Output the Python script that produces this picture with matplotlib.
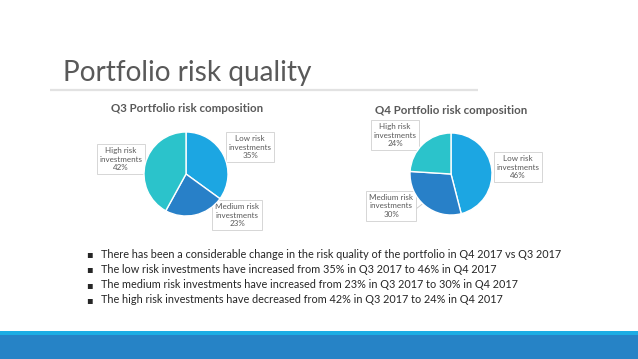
import matplotlib
matplotlib.use("Agg")
import matplotlib.pyplot as plt
from matplotlib.patches import Rectangle

# data
categories = ["Low risk\ninvestments", "Medium risk\ninvestments", "High risk\ninvestments"]
q3_values = [35, 23, 42]
q4_values = [46, 30, 24]
pie_colors = ["#1CA6E2", "#2880C8", "#2BC3CB"]
title = "Portfolio risk quality"
pie_titles = ["Q3 Portfolio risk composition", "Q4 Portfolio risk composition"]
bullets = [
    "There has been a considerable change in the risk quality of the portfolio in Q4 2017 vs Q3 2017",
    "The low risk investments have increased from 35% in Q3 2017 to 46% in Q4 2017",
    "The medium risk investments have increased from 23% in Q3 2017 to 30% in Q4 2017",
    "The high risk investments have decreased from 42% in Q3 2017 to 24% in Q4 2017",
]

W, H = 638, 359
plt.rcParams['font.family'] = ['Lato', 'DejaVu Sans']
fig = plt.figure(figsize=(W / 100, H / 100), dpi=100)
fig.patch.set_facecolor("white")

# overlay axes in pixel coords (y down)
bg = fig.add_axes([0, 0, 1, 1])
bg.set_xlim(0, W)
bg.set_ylim(H, 0)
bg.axis("off")

# slide title + rule
bg.text(63, 81, title, fontsize=20.2, fontweight="normal", color="#595959", va="baseline")
bg.plot([50, 478], [90, 90], color="#E2E2E2", lw=1.6, solid_capstyle="butt")

# bottom band
bg.add_patch(Rectangle((0, 331), W, 4, color="#1CADE4", lw=0))
bg.add_patch(Rectangle((0, 335), W, H - 335, color="#2683C6", lw=0))


def draw_pie(cx, cy, r, values):
    ax = fig.add_axes([(cx - r) / W, (H - cy - r) / H, 2 * r / W, 2 * r / H])
    ax.pie(values, colors=pie_colors, startangle=90, counterclock=False,
           wedgeprops=dict(edgecolor="white", linewidth=1.0))
    ax.set_xlim(-1, 1)
    ax.set_ylim(-1, 1)
    ax.set_aspect("auto")
    return ax


draw_pie(186, 174, 42, q3_values)
draw_pie(451, 174, 41, q4_values)

bg.text(187, 108, pie_titles[0], fontsize=8.3, fontweight="bold", color="#595959", ha="center", va="center")
bg.text(451, 111, pie_titles[1], fontsize=8.3, fontweight="bold", color="#595959", ha="center", va="center")

box = dict(boxstyle="square,pad=0.35", fc="white", ec="#D0D0D0", lw=0.6)


def label(x, y, cat, val):
    bg.text(x, y, f"{cat}\n{val}%", fontsize=5.8, color="#595959", ha="center", va="center",
            linespacing=1.25, bbox=box)


# Q3 labels
label(250, 147, categories[0], q3_values[0])
label(237, 215, categories[1], q3_values[1])
label(121, 159, categories[2], q3_values[2])

# Q4 leader lines
bg.plot([416, 426], [143, 152], color="#C8C8C8", lw=0.6)
bg.plot([412, 425], [212, 202], color="#C8C8C8", lw=0.6)
# Q4 labels
label(518, 167, categories[0], q4_values[0])
label(391, 206, categories[1], q4_values[1])
label(395, 135, categories[2], q4_values[2])

# bullets
for i, t in enumerate(bullets):
    y = 254 + i * 15.3
    bg.text(89, y, "\u25aa", fontsize=7, color="#262626", va="center", ha="center", family="DejaVu Sans")
    bg.text(101, y, t, fontsize=7.8, color="#262626", va="center")

fig.savefig("out.png", dpi=100, facecolor="white")
